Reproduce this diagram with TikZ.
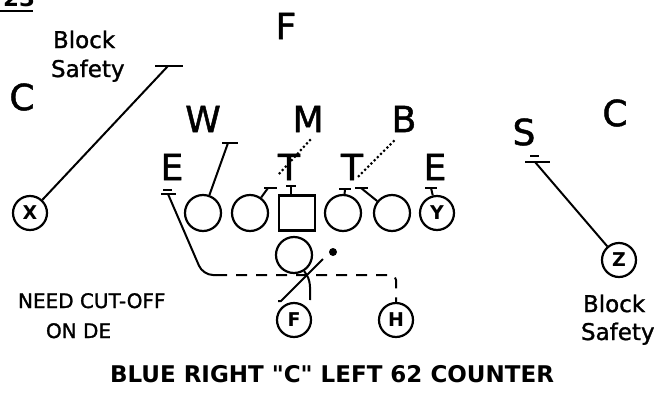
\documentclass[tikz,border=0pt]{standalone}
\usepackage{fontspec}
\setmainfont{DejaVu Sans}
\newfontfamily\plotfont[FakeBold=1.3]{DejaVu Sans}
\newfontfamily\titlefont[Ligatures=TeXOff]{DejaVu Sans}
\usetikzlibrary{positioning}

\begin{document}
\begin{tikzpicture}[
  x=1pt, y=-1pt,
  line width=2pt,
  deflabel/.style={font=\plotfont\fontsize{36}{36}\selectfont, inner sep=0pt},
  note/.style={font=\plotfont\fontsize{23}{28}\selectfont, inner sep=0pt, anchor=base west},
  cutnote/.style={font=\plotfont\fontsize{20}{24}\selectfont, inner sep=0pt, anchor=base west},
  lineman/.style={draw, circle, minimum size=36pt, inner sep=0pt, line width=2.2pt},
  skill/.style={draw, circle, minimum size=34pt, inner sep=0pt, line width=2.2pt,
                font=\fontsize{19}{19}\selectfont\bfseries},
  snapbox/.style={draw, rectangle, minimum width=36pt, minimum height=35pt,
                  inner sep=0pt, line width=2.2pt},
  route/.style={line width=2pt},
  cutpath/.style={line width=2pt, dash pattern=on 11pt off 9pt},
  readline/.style={line width=3pt, line cap=round, dash pattern=on 0pt off 4.5pt},
]
\useasboundingbox (0,0) rectangle (654,394);

% play number (cut off at the top)
\node[font=\fontsize{23}{23}\selectfont\bfseries, inner sep=0pt, anchor=base west] (pnum) at (2,6) {23};
\draw[line width=2.6pt] (-2,11) -- (33,11);

% defense
\node[deflabel] (fsaf) at (286,26)  {F};
\node[deflabel] (lcb)  at (22,97)   {C};
\node[deflabel] (rcb)  at (615,113) {C};
\node[deflabel] (ss)   at (524,132) {S};
\node[deflabel] (wlb)  at (203,119) {W};
\node[deflabel] (mlb)  at (308,119) {M};
\node[deflabel] (blb)  at (404,119) {B};
\node[deflabel] (lde)  at (172,167) {E};
\node[deflabel] (ldt)  at (289,167) {T};
\node[deflabel] (rdt)  at (352,167) {T};
\node[deflabel] (rde)  at (435,167) {E};

% offense
\node[skill]   (x)    at (30,213)  {X};
\node[lineman] (lt)   at (203,213) {};
\node[lineman] (lg)   at (250,213) {};
\node[snapbox] (snap) at (297,213) {};
\node[lineman] (rg)   at (343,213) {};
\node[lineman] (rtk)  at (392,213) {};
\node[skill]   (yend) at (437,213) {Y};
\node[lineman] (qb)   at (294,255) {};
\node[skill]   (fb)   at (294,320) {F};
\node[skill]   (hb)   at (396,320) {H};
\node[skill]   (z)    at (619,260) {Z};
\node[circle, fill, inner sep=0pt, minimum size=8pt] (ball) at (333,252) {};

% notes
\node[note] (blockl)  at (52,48)   {Block};
\node[note] (safetyl) at (50,77)   {Safety};
\node[note] (blockr)  at (582,312) {Block};
\node[note] (safetyr) at (580,340) {Safety};
\node[cutnote] (need) at (17,308)  {NEED CUT-OFF};
\node[cutnote] (onde) at (45,338)  {ON DE};
\node[font=\titlefont\bfseries\fontsize{23}{23}\selectfont, inner sep=0pt, anchor=base]
  (title) at (332,382) {BLUE RIGHT "C" LEFT 62 COUNTER};

% block points
\coordinate (xblk)   at (168,66);
\coordinate (ltblk)  at (228,143);
\coordinate (lgblk)  at (268,188);
\coordinate (snblk)  at (291,186);
\coordinate (rgblk)  at (345,189);
\coordinate (rtkblk) at (361,188);
\coordinate (yblk)   at (431,188);
\coordinate (leblk)  at (168,194);
\coordinate (sblk)   at (535,162);

\draw[route] (x)    -- (xblk);
\draw[route] (lt)   -- (ltblk);
\draw[route] (lg)   -- (lgblk);
\draw[route] ([xshift=-6pt]snap.north) -- (snblk);
\draw[route] (rg)   -- (rgblk);
\draw[route] (rtk)  -- (rtkblk);
\draw[route] (yend) -- (yblk);
\draw[route] (z)    -- (sblk);

\foreach \c/\l/\r in {xblk/13/15, ltblk/6/10, lgblk/4/9, snblk/5/5, rgblk/6/6,
                      rtkblk/6/7, yblk/6/6, leblk/7/8, sblk/10/15}
  \draw[route] ([xshift=-\l pt]\c) -- ([xshift=\r pt]\c);
\draw[route] ([shift={(-5pt,4pt)}]leblk) -- ([shift={(4pt,4pt)}]leblk);
\draw[route] ([shift={(-5pt,6pt)}]sblk) -- ([shift={(4pt,6pt)}]sblk);

% H kicks out the end
\coordinate (lecorner) at (203,275);
\coordinate (cutstart) at (216,275);
\coordinate (hcorner)  at (396,275);
\draw[route, rounded corners=10pt] (leblk) -- (lecorner) -- (cutstart);
\draw[cutpath, rounded corners=5pt] (cutstart) -- (hcorner) -- (hb.north);

% backfield action
\coordinate (fstart) at (281,301);
\coordinate (fend)   at (323,259);
\draw[route] ([xshift=-3pt]fstart) -- (fstart) -- (fend);
\coordinate (qbend)  at (310,300);
\draw[route] (qb.-58) to[out=-50, in=90] (qbend);

% reads
\coordinate (ldtread) at (279,174);
\coordinate (rdtread) at (357,178);
\draw[readline] ([shift={(2pt,-7pt)}]mlb.south) -- (ldtread);
\draw[readline] ([shift={(3pt,-8pt)}]blb.south west) -- (rdtread);
\end{tikzpicture}
\end{document}
